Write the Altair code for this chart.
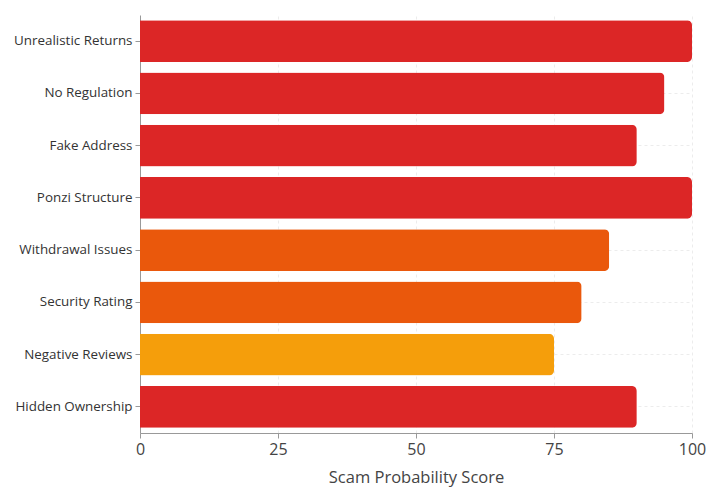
import altair as alt
import pandas as pd

categories = ["Unrealistic Returns", "No Regulation", "Fake Address", "Ponzi Structure",
              "Withdrawal Issues", "Security Rating", "Negative Reviews", "Hidden Ownership"]
scores = [100, 95, 90, 100, 85, 80, 75, 90]
levels = ["high", "high", "high", "high", "elevated", "elevated", "medium", "high"]
level_domain = ["high", "elevated", "medium"]
level_colors = ["#dc2626", "#ea580c", "#f59e0b"]
x_ticks = [0, 25, 50, 75, 100]

df = pd.DataFrame({"factor": categories, "score": scores, "level": levels})

FONT = "Open Sans"

chart = alt.Chart(df).mark_bar(cornerRadiusEnd=5).encode(
    y=alt.Y("factor:N", sort=categories, title=None,
            scale=alt.Scale(paddingInner=0.2, paddingOuter=0.1),
            axis=alt.Axis(labelFontSize=13.4, labelColor="#333", labelFont=FONT,
                          domainColor="#999", tickColor="#999", tickSize=5,
                          labelPadding=3,
                          grid=True, gridDash=[3, 3], gridColor="#ececec")),
    x=alt.X("score:Q", title="Scam Probability Score",
            scale=alt.Scale(domain=[0, 100], nice=False),
            axis=alt.Axis(values=x_ticks, labelFontSize=16, labelColor="#444", labelFont=FONT,
                          labelFlush=False, labelPadding=3,
                          titleFontSize=16.5, titleColor="#444", titleFont=FONT, titleFontWeight="normal",
                          titlePadding=12,
                          domainColor="#999", tickColor="#999", tickSize=5,
                          grid=True, gridDash=[3, 3], gridColor="#ececec")),
    color=alt.Color("level:N", scale=alt.Scale(domain=level_domain, range=level_colors), legend=None),
).properties(
    width=552, height=418,
    autosize=alt.AutoSizeParams(type="none"),
    padding={"left": 132, "top": 7, "right": 21, "bottom": 60},
).configure_view(stroke=None)

chart.save("out.html", embed_options={"renderer": "svg", "actions": False})
